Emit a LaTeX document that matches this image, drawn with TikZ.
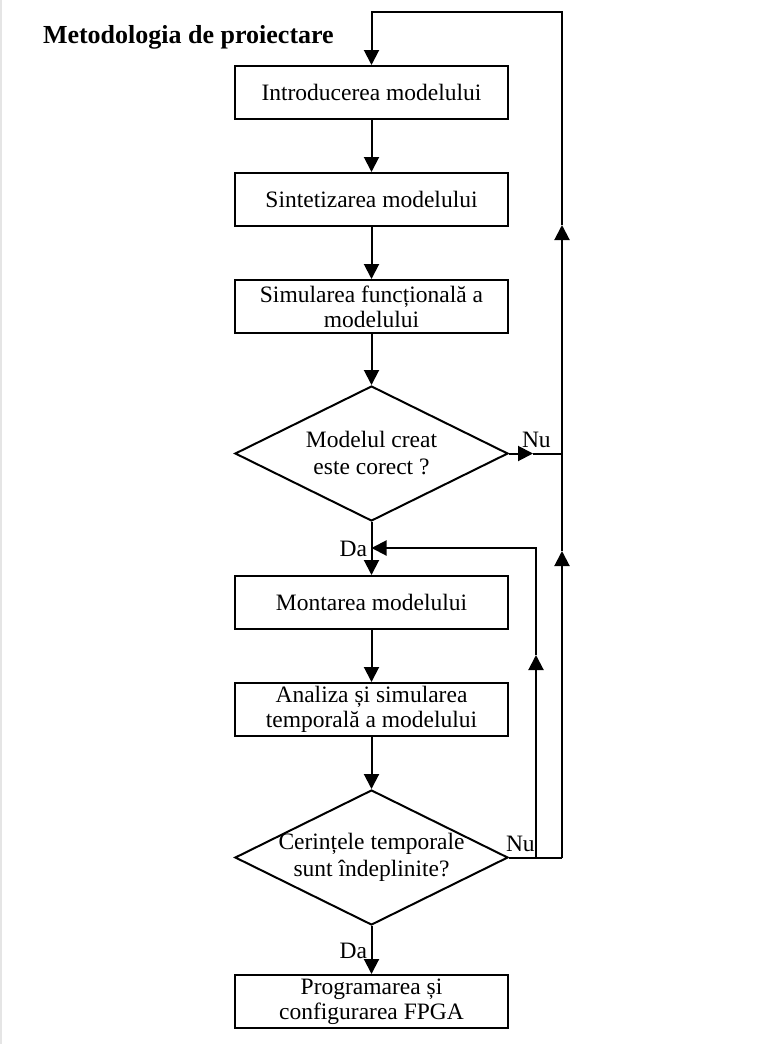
\documentclass[tikz,border=0pt]{standalone}
\usepackage{fontspec}
\setmainfont{Liberation Serif}
\usetikzlibrary{arrows.meta,shapes.geometric}
\begin{document}
\begin{tikzpicture}[x=1pt,y=-1pt,
  line width=2pt,
  >={Triangle[length=15pt,width=15pt]},
  stepbox/.style={draw,rectangle,minimum width=273pt,minimum height=53pt,inner sep=0pt,
    align=center,font=\fontsize{23.5}{25}\selectfont},
  decision/.style={draw,diamond,minimum width=273pt,minimum height=135pt,inner sep=0pt},
  dtext/.style={align=center,inner sep=0pt,font=\fontsize{23.5}{27}\selectfont},
  lbl/.style={inner sep=0pt,font=\fontsize{23.5}{25}\selectfont}]
\useasboundingbox (0,0) rectangle (763,1044);
\draw[line width=1.5pt,black!10] (0.75,0) -- (0.75,1044);

% title
\node[inner sep=0pt,anchor=base west,font=\fontsize{26}{28}\selectfont\bfseries] (title) at (42,43) {Metodologia de proiectare};

% process steps and decisions
\node[stepbox] (b1) at (371.5,92.5) {Introducerea modelului};
\node[stepbox] (b2) at (371.5,199.5) {Sintetizarea modelului};
\node[stepbox] (b3) at (371.5,306.5) {Simularea funcțională a\\modelului};
\node[decision] (d1) at (371.5,453.5) {};
\node[dtext] (d1t) at (d1) {Modelul creat\\este corect ?};
\node[stepbox] (b4) at (371.5,602.5) {Montarea modelului};
\node[stepbox] (b5) at (371.5,709.5) {Analiza și simularea\\temporală a modelului};
\node[decision] (d2) at (371.5,857.5) {};
\node[dtext] (d2t) at (d2) {Cerințele temporale\\sunt îndeplinite?};
\node[stepbox] (b6) at (371.5,1001.5) {Programarea și\\configurarea FPGA};

% main flow
\draw[->] (b1) -- (b2);
\draw[->] (b2) -- (b3);
\draw[->] (b3) -- (d1);
\draw[->] (d1) -- (b4);
\draw[->] (b4) -- (b5);
\draw[->] (b5) -- (d2);
\draw[->] (d2) -- (b6);

% loop-back points
\coordinate (jr1) at (562,453.5);
\coordinate (nutip) at (533,453.5);
\coordinate (up1) at (562,225);
\coordinate (cr) at (562,12);
\coordinate (cl) at (371.5,12);
\coordinate (jr2) at (562,857.5);
\coordinate (ji2) at (536,857.5);
\coordinate (up2) at (562,551);
\coordinate (up3) at (536,655);
\coordinate (it) at (536,548);
\coordinate (da) at (371.5,548);

% "Nu" from the first decision back to the start
\draw[->] (d1.east) -- (nutip);
\draw (nutip) -- (jr1);
\draw[->] (jr1) -- (up1);
\draw[->] (up1) -- (cr) -- (cl) -- (b1.north);

% "Nu" from the second decision
\draw (d2.east) -- (jr2);
\draw[->] (jr2) -- (up2);
\draw (up2) -- (jr1);
\draw[->] (ji2) -- (up3);
\draw[->] (up3) -- (it) -- (da);

% labels
\node[lbl,anchor=base west] (nu1) at (521,447) {Nu};
\node[lbl,anchor=base west] (nu2) at (505,851) {Nu};
\node[lbl,anchor=base east] (da1) at (368,556) {Da};
\node[lbl,anchor=base east] (da2) at (368,958) {Da};
\end{tikzpicture}
\end{document}
